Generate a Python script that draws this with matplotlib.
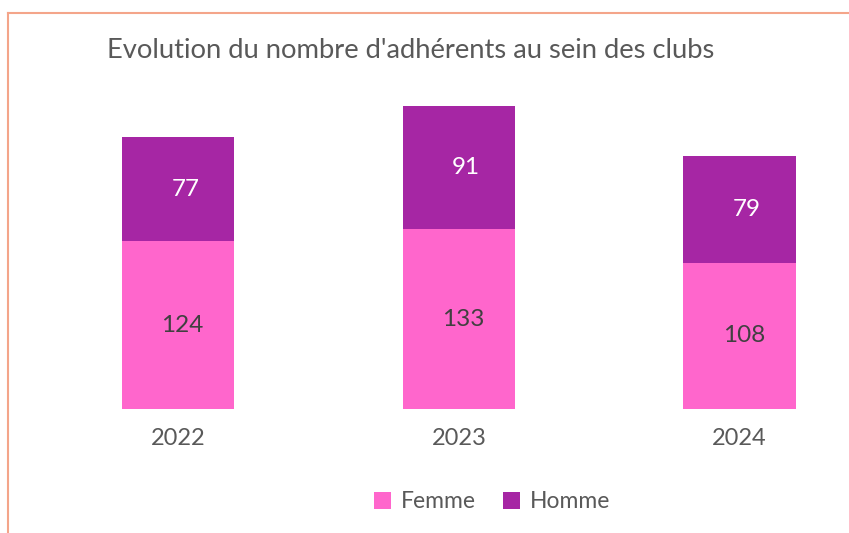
import matplotlib
matplotlib.use('Agg')
import matplotlib.pyplot as plt
from matplotlib.lines import Line2D

years = ['2022', '2023', '2024']
femme = [124, 133, 108]
homme = [77, 91, 79]

W, H = 849, 533
fig = plt.figure(figsize=(W / 100, H / 100), dpi=100)
fig.patch.set_facecolor('white')
plt.rcParams['font.family'] = ['Lato', 'DejaVu Sans']

# cadre (bord haut et gauche visibles)
fig.add_artist(Line2D([8 / W, 8 / W], [0, 1 - 13 / H], color='#F4A58A', linewidth=1.5,
                      transform=fig.transFigure))
fig.add_artist(Line2D([8 / W, 1], [1 - 13 / H, 1 - 13 / H], color='#F4A58A', linewidth=1.5,
                      transform=fig.transFigure))

ax = fig.add_axes([38 / W, (H - 409) / H, (849 - 38) / W, (409 - 60) / H])
x = list(range(len(years)))
b1 = ax.bar(x, femme, width=0.4, color='#FF66CC', label='Femme')
b2 = ax.bar(x, homme, width=0.4, bottom=femme, color='#A626A4', label='Homme')

for i in x:
    ax.text(i + 0.015, femme[i] / 2, str(femme[i]), ha='center', va='center',
            fontsize=17.5, color='#404040')
    ax.text(i + 0.025, femme[i] + homme[i] / 2, str(homme[i]), ha='center', va='center',
            fontsize=17.5, color='white')

ax.set_xlim(-0.5, 2.39)
ax.set_ylim(0, 258)
ax.set_xticks(x)
ax.set_xticklabels(years, fontsize=17, color='#595959')
ax.tick_params(axis='x', length=0, pad=14)
ax.set_yticks([])
for s in ax.spines.values():
    s.set_visible(False)

fig.text(107 / W, 1 - 51 / H, "Evolution du nombre d'adhérents au sein des clubs",
         fontsize=19.7, color='#595959', ha='left', va='center')

fig.legend(handles=[b1, b2], loc='center', bbox_to_anchor=(492 / W, 1 - 502 / H),
           ncol=2, frameon=False, fontsize=16.5, handlelength=0.75, handleheight=0.75,
           handletextpad=0.4, columnspacing=1.2, labelcolor='#595959')

plt.savefig('out.png', dpi=100, facecolor='white')
plt.close()
